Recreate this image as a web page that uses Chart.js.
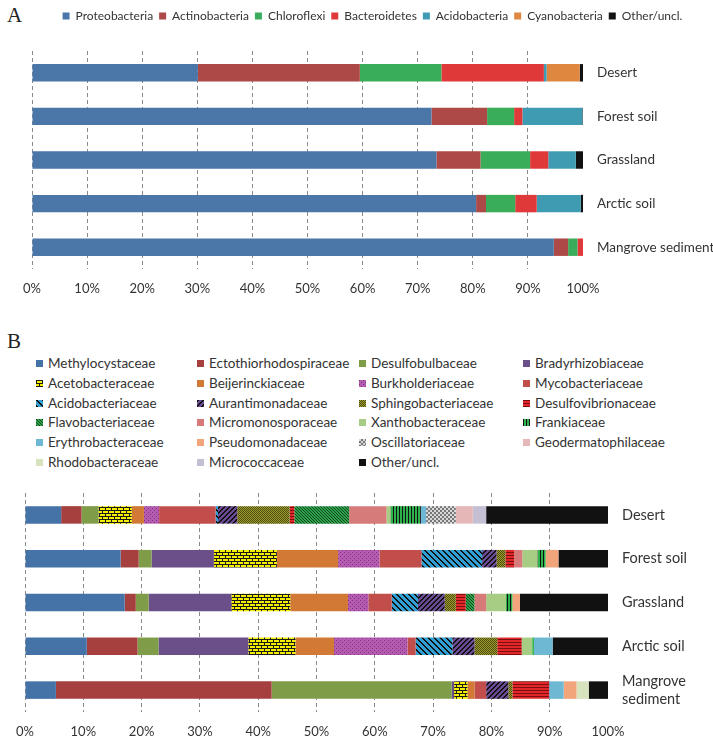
<!DOCTYPE html>
<html>
<head>
<meta charset="utf-8">
<script src="https://cdn.jsdelivr.net/npm/chart.js@4.4.1/dist/chart.umd.min.js"></script>
<style>
  body { margin: 0; background: #fff; }
  #page { position: relative; width: 713px; height: 739px; overflow: hidden; }
  .panel { position: absolute; left: 7px; font: 21px "Liberation Serif", serif; color: #222; }
  #chartA { position: absolute; left: 0; top: 0; }
  #chartB { position: absolute; left: 0; top: 480px; }
  .li { position: absolute; font: 13.5px Lato, sans-serif; color: #333; white-space: nowrap; line-height: 16px; }
  .li canvas { position: absolute; left: 0; top: 5px; }
  .li span { position: absolute; left: 12px; top: 0; }
</style>
</head>
<body>
<div id="page">
  <div class="panel" style="top:3px">A</div>
  <div class="panel" style="top:329px">B</div>
  <canvas id="chartA" width="713" height="300"></canvas>
  <canvas id="chartB" width="713" height="259"></canvas>
</div>
<script>
// ---- A: phyla ----
const sitesA = ['Desert', 'Forest soil', 'Grassland', 'Arctic soil', 'Mangrove sediment'];
const phyla = ['Proteobacteria', 'Actinobacteria', 'Chloroflexi', 'Bacteroidetes', 'Acidobacteria', 'Cyanobacteria', 'Other/uncl.'];
const desertA   = [30.1, 29.4, 14.8, 18.6, 0.5, 6.0, 0.6];
const forestA   = [72.5, 10.1, 4.9, 1.5, 10.9, 0, 0.1];
const grassA    = [73.4, 8.0, 9.0, 3.3, 5.0, 0, 1.3];
const arcticA   = [80.6, 1.8, 5.3, 3.9, 8.0, 0, 0.4];
const mangroveA = [94.7, 2.6, 1.7, 1.0, 0, 0, 0];

// ---- B: families ----
const sitesB = ['Desert', 'Forest soil', 'Grassland', 'Arctic soil', ['Mangrove', 'sediment']];
const families = ['Methylocystaceae', 'Ectothiorhodospiraceae', 'Desulfobulbaceae', 'Bradyrhizobiaceae',
  'Acetobacteraceae', 'Beijerinckiaceae', 'Burkholderiaceae', 'Mycobacteriaceae',
  'Acidobacteriaceae', 'Aurantimonadaceae', 'Sphingobacteriaceae', 'Desulfovibrionaceae',
  'Flavobacteriaceae', 'Micromonosporaceae', 'Xanthobacteraceae', 'Frankiaceae',
  'Erythrobacteraceae', 'Pseudomonadaceae', 'Oscillatoriaceae', 'Geodermatophilaceae',
  'Rhodobacteraceae', 'Micrococcaceae', 'Other/uncl.'];
const desertB   = [6.2, 3.5, 2.9, 0, 5.7, 2.1, 2.6, 9.7, 0.4, 3.3, 9.0, 0.8, 9.4, 6.4, 0.7, 5.2, 0.9, 0, 5.1, 2.9, 0, 2.3, 20.9];
const forestB   = [16.4, 3.1, 2.2, 10.7, 10.8, 10.5, 7.1, 7.2, 10.4, 2.5, 1.5, 1.5, 0, 1.4, 2.6, 1.4, 0, 2.2, 0, 0, 0, 0, 8.5];
const grassB    = [17.1, 1.9, 2.2, 14.2, 10.1, 9.9, 3.5, 4.0, 4.5, 4.6, 1.9, 1.7, 1.5, 2.0, 3.4, 1.1, 0, 1.3, 0, 0, 0, 0, 15.1];
const arcticB   = [10.6, 8.7, 3.6, 15.4, 8.1, 6.6, 12.6, 1.4, 6.3, 3.8, 3.9, 4.2, 0, 0, 1.8, 0.3, 3.2, 0, 0, 0, 0, 0, 9.5];
const mangroveB = [5.3, 37.0, 30.9, 0.4, 2.3, 1.2, 0, 2.0, 0, 3.8, 0.7, 6.3, 0, 0, 0, 0, 2.5, 2.2, 0, 0, 2.1, 0, 3.3];

const xTicks = [0, 10, 20, 30, 40, 50, 60, 70, 80, 90, 100];

Chart.defaults.font.family = 'Lato, sans-serif';
Chart.defaults.color = '#333';

const colorsA = ['#4a76a8', '#ad4946', '#3aad5a', '#e0393a', '#3f9bb2', '#df873e', '#111111'];

// pixel tiles for the hatched fills
function tile(w, h, bg, fg, on) {
  const c = document.createElement('canvas');
  c.width = w; c.height = h;
  const g = c.getContext('2d');
  g.fillStyle = bg; g.fillRect(0, 0, w, h);
  g.fillStyle = fg;
  for (let y = 0; y < h; y++)
    for (let x = 0; x < w; x++)
      if (on(x, y)) g.fillRect(x, y, 1, 1);
  return g.createPattern(c, 'repeat');
}

const fillsB = [
  '#4572a7', '#a5403f', '#7f9d48', '#6b4f88',
  tile(6, 6, '#f4ee00', '#1a1a1a', (x, y) => y === 0 || y === 3 || (y < 3 && x === 0) || (y > 3 && x === 3)),
  '#d27a35',
  tile(4, 4, '#b55cb2', '#7a3478', (x, y) => (x === 0 && y === 0) || (x === 2 && y === 2)),
  '#c24e4b',
  tile(6, 6, '#2f9fd4', '#111', (x, y) => ((x - y + 12) % 6) < 2),
  tile(5, 5, '#6a4a95', '#111', (x, y) => ((x + y) % 5) < 2),
  tile(2, 2, '#a09e2e', '#4d4c10', (x, y) => (x + y) % 2 === 0),
  tile(3, 3, '#e3262a', '#7a1010', (x, y) => y === 0),
  tile(3, 3, '#2fa04c', '#0e4a1e', (x, y) => ((x - y + 6) % 3) === 0),
  '#d67b7a', '#a7cd85',
  tile(3, 3, '#2eb34c', '#111', (x, y) => x === 0),
  '#6eb8d4', '#f2a57a',
  tile(4, 4, '#777', '#d8d8d8', (x, y) => (((x >> 1) + (y >> 1)) % 2) === 0),
  '#e5b8b7', '#d6e3bc', '#c5bfd3', '#111111'
];

function legendHeight(h) {
  return {
    id: 'legendHeight',
    beforeInit(chart) {
      const fit = chart.legend.fit;
      chart.legend.fit = function () { fit.call(this); this.height = h; };
    }
  };
}

function xScale(height) {
  return {
    stacked: true, min: 0, max: 100,
    afterBuildTicks: s => { s.ticks = xTicks.map(v => ({ value: v })); },
    ticks: { callback: v => v + '%', padding: 12, font: { size: 13 }, color: '#333', maxRotation: 0 },
    grid: { color: c => (c.tick && c.tick.value === 100) ? 'rgba(0,0,0,0)' : '#8a8a8a', drawTicks: false },
    border: { display: false, dash: [4, 3] },
    afterFit: s => { s.height = height; }
  };
}

function yScale(width, size) {
  return {
    stacked: true, position: 'right',
    grid: { display: false, drawTicks: false }, border: { display: false },
    ticks: { padding: 14, font: { size: size, lineHeight: 1.25 }, color: '#333' },
    afterFit: s => { s.width = width; s.paddingTop = 0; s.paddingBottom = 0; }
  };
}

const rowsA = [desertA, forestA, grassA, arcticA, mangroveA];
new Chart(document.getElementById('chartA'), {
  type: 'bar',
  data: {
    labels: sitesA,
    datasets: phyla.map((p, i) => ({
      label: p, data: rowsA.map(r => r[i]), backgroundColor: colorsA[i], borderWidth: 0
    }))
  },
  options: {
    responsive: false, animation: false, indexAxis: 'y',
    layout: { padding: { left: 32, right: 0, top: 4, bottom: 0 } },
    datasets: { bar: { categoryPercentage: 1, barPercentage: 0.4 } },
    scales: { x: xScale(31), y: yScale(130, 13.5) },
    plugins: {
      legend: { position: 'top', labels: { boxWidth: 7, boxHeight: 7, padding: 6, font: { size: 12 }, color: '#333' } },
      tooltip: { enabled: false }
    }
  },
  plugins: [legendHeight(47)]
});

const rowsB = [desertB, forestB, grassB, arcticB, mangroveB];
new Chart(document.getElementById('chartB'), {
  type: 'bar',
  data: {
    labels: sitesB,
    datasets: families.map((f, i) => ({
      label: f, data: rowsB.map(r => r[i]), backgroundColor: fillsB[i], borderWidth: 0
    }))
  },
  options: {
    responsive: false, animation: false, indexAxis: 'y',
    layout: { padding: { left: 25, right: 0, top: 13, bottom: 0 } },
    datasets: { bar: { categoryPercentage: 1, barPercentage: 0.4 } },
    scales: { x: xScale(27), y: yScale(105, 14.5) },
    plugins: { legend: { display: false }, tooltip: { enabled: false } }
  }
});

// legend for B laid out as a 4-column grid
const colX = [36, 197, 359, 523];
const rowY = [363, 383, 403, 422, 442, 462];
const page = document.getElementById('page');
families.forEach((f, i) => {
  const d = document.createElement('div');
  d.className = 'li';
  d.style.left = colX[i % 4] + 'px';
  d.style.top = (rowY[Math.floor(i / 4)] - 8) + 'px';
  const sw = document.createElement('canvas');
  sw.width = 7; sw.height = 7;
  const g = sw.getContext('2d');
  g.fillStyle = fillsB[i]; g.fillRect(0, 0, 7, 7);
  const t = document.createElement('span');
  t.textContent = f;
  d.appendChild(sw); d.appendChild(t);
  page.appendChild(d);
});
</script>
</body>
</html>
